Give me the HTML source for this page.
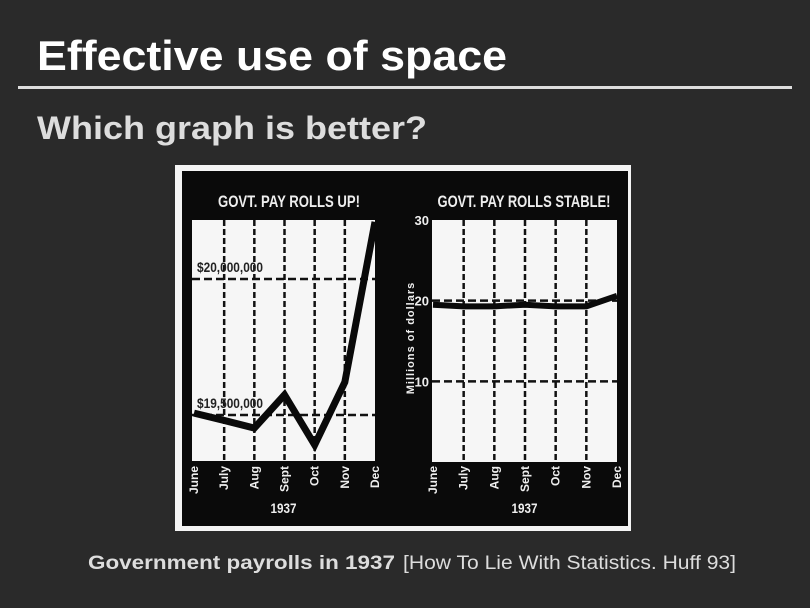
<!DOCTYPE html>
<html><head><meta charset="utf-8"><style>
html,body{margin:0;padding:0;background:#2a2a2a;}
svg{display:block}
.c{font-family:"Liberation Sans Narrow","Liberation Sans",sans-serif;font-weight:bold;}
</style></head><body>
<svg width="810" height="608" viewBox="0 0 810 608">
<rect x="0" y="0" width="810" height="608" fill="#2a2a2a"/>
<text x="37" y="70" font-family="Liberation Sans, sans-serif" font-weight="bold" font-size="42" fill="#fff" textLength="470" lengthAdjust="spacingAndGlyphs">Effective use of space</text>
<rect x="18" y="86" width="774" height="3" fill="#ddd"/>
<text x="37" y="139" font-family="Liberation Sans, sans-serif" font-weight="bold" font-size="32" fill="#ddd" textLength="390" lengthAdjust="spacingAndGlyphs">Which graph is better?</text>
<rect x="175" y="165" width="456" height="366" fill="#f4f4f4"/>
<rect x="182" y="171" width="446" height="355" fill="#0a0a0a"/>
<g id="left"></g>
<g id="right"></g>
<text x="88" y="569" font-family="Liberation Sans, sans-serif" font-size="19" fill="#ddd"><tspan font-weight="bold" textLength="307" lengthAdjust="spacingAndGlyphs">Government payrolls in 1937</tspan><tspan x="403" textLength="333" lengthAdjust="spacingAndGlyphs">[How To Lie With Statistics. Huff 93]</tspan></text>
</svg>
<script>
const months = ["June","July","Aug","Sept","Oct","Nov","Dec"];
const leftValues = [19507000,19480000,19452000,19574000,19390000,19621000,20210000];
const leftRefValues = [20000000,19500000];
const leftRefLabels = ["$20,000,000","$19,500,000"];
const rightValues = [19.5,19.3,19.3,19.5,19.3,19.3,20.6];
const rightTicks = [30,20,10];
const rightTickLabels = ["30","20","10"];
const NS="http://www.w3.org/2000/svg";
function mk(parent,tag,attrs,text){const e=document.createElementNS(NS,tag);for(const k in attrs)e.setAttribute(k,attrs[k]);if(text!==undefined)e.textContent=text;parent.appendChild(e);return e;}
function chart(g,cfg){
  const {x0,x1,y0,y1,px0,px1,vmin,vmax,title,tx,tlen}=cfg;
  const xs=i=>px0+(px1-px0)*i/(months.length-1);
  const ys=v=>y1-(v-vmin)/(vmax-vmin)*(y1-y0);
  const bg=mk(g,'rect',{x:x0,y:y0,width:x1-x0,height:y1-y0,fill:'#f6f6f6'});
  
  
  const t=mk(g,'text',{x:tx-tlen/2,y:207,class:'c','font-size':17,fill:'#eee',textLength:tlen,lengthAdjust:'spacingAndGlyphs'},title);
  
  
  for(let i=1;i<months.length-1;i++){
    const l=mk(g,'line',{x1:xs(i),x2:xs(i),y1:y0,y2:y1,stroke:'#111','stroke-width':2.5,'stroke-dasharray':'6 3'});
    
    
  }
  months.forEach((m,i)=>{
    const tt=mk(g,'text',{x:0,y:0,transform:`translate(${xs(i)+4},466) rotate(-90)`,'text-anchor':'end',class:'c','font-size':12,fill:'#eee'},m);
    
    
  });
  const yr=mk(g,'text',{x:(x0+x1)/2,y:513,'text-anchor':'middle',class:'c','font-size':14,fill:'#eee',textLength:26,lengthAdjust:'spacingAndGlyphs'},'1937');
  
  
  return {xs,ys};
}
// left
const L=document.getElementById('left');
const la=chart(L,{x0:192,x1:375,y0:220,y1:461,px0:194,px1:375,vmin:19500000-(461-415)/136*500000,vmax:20000000+(279-220)/136*500000,title:'GOVT. PAY ROLLS UP!',tx:289,tlen:142});
leftRefValues.forEach((v,i)=>{
  const l=mk(L,'line',{x1:192,x2:375,y1:la.ys(v),y2:la.ys(v),stroke:'#111','stroke-width':2.5,'stroke-dasharray':'8 4'});
  
  
  const t=mk(L,'text',{x:197,y:la.ys(v)-7,class:'c','font-size':14,fill:'#222',textLength:66,lengthAdjust:'spacingAndGlyphs'},leftRefLabels[i]);
  
  
});
const lp=mk(L,'polyline',{points:leftValues.map((v,i)=>la.xs(i)+','+la.ys(v)).join(' '),fill:'none',stroke:'#0a0a0a','stroke-width':7,'stroke-linejoin':'miter'});


// right
const R=document.getElementById('right');
const ra=chart(R,{x0:432,x1:617,y0:220,y1:462,px0:433,px1:617,vmin:0,vmax:30,title:'GOVT. PAY ROLLS STABLE!',tx:524,tlen:173});
rightTicks.forEach((v,i)=>{
  if(v<30){
    const l=mk(R,'line',{x1:432,x2:617,y1:ra.ys(v),y2:ra.ys(v),stroke:'#111','stroke-width':2.5,'stroke-dasharray':'8 4'});
    
    
  }
  const t=mk(R,'text',{x:429,y:ra.ys(v)+5,'text-anchor':'end',class:'c','font-size':13,fill:'#eee'},rightTickLabels[i]);
  
  
});
const yt=mk(R,'text',{x:0,y:0,transform:'translate(414,338) rotate(-90)','text-anchor':'middle',class:'c','font-size':11,fill:'#eee','letter-spacing':'1'},'Millions of dollars');


const rp=mk(R,'polyline',{points:rightValues.map((v,i)=>ra.xs(i)+','+ra.ys(v)).join(' '),fill:'none',stroke:'#0a0a0a','stroke-width':6});


</script>
</body></html>
